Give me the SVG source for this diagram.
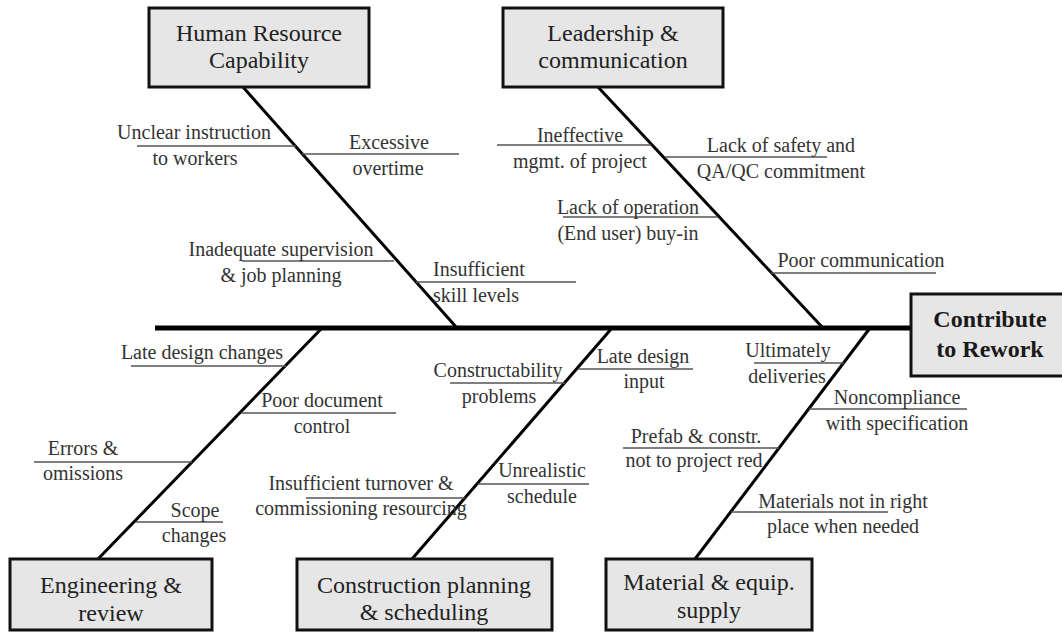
<svg xmlns="http://www.w3.org/2000/svg" width="1062" height="633" viewBox="0 0 1062 633">
  <style>
    .box { fill: #e6e6e6; stroke: #111; stroke-width: 3; }
    .spine { stroke: #000; stroke-width: 3; fill: none; }
    .backbone { stroke: #000; stroke-width: 5; fill: none; }
    .twig { stroke: #555; stroke-width: 1.6; fill: none; }
    text { font-family: "Liberation Serif", "Times New Roman", serif; text-anchor: middle; }
    .cat { font-size: 24px; fill: #222; }
    .effect { font-size: 24px; font-weight: bold; fill: #1a1a1a; }
    .cause { font-size: 20px; fill: #333; }
  </style>

  <rect width="1062" height="633" fill="#fff"/>

  <!-- connectors: backbone, category spines and cause branches -->
  <g id="connectors">
    <line class="backbone" x1="155" y1="328" x2="911" y2="328"/>
    <line class="spine" x1="243" y1="87" x2="457" y2="328"/>
    <line class="spine" x1="598" y1="87" x2="823" y2="328"/>
    <line class="spine" x1="322" y1="328" x2="98" y2="559"/>
    <line class="spine" x1="612" y1="328" x2="412" y2="559"/>
    <line class="spine" x1="870" y1="328" x2="695" y2="559"/>

    <!-- Human Resource Capability -->
    <line class="twig" x1="137" y1="146" x2="296" y2="146"/>
    <line class="twig" x1="302" y1="154" x2="459" y2="154"/>
    <line class="twig" x1="242" y1="261" x2="394" y2="261"/>
    <line class="twig" x1="416" y1="282" x2="576" y2="282"/>
    <!-- Leadership & communication -->
    <line class="twig" x1="497" y1="145" x2="651" y2="145"/>
    <line class="twig" x1="665" y1="157" x2="827" y2="157"/>
    <line class="twig" x1="563" y1="217" x2="718" y2="217"/>
    <line class="twig" x1="771" y1="273" x2="936" y2="273"/>
    <!-- Engineering & review -->
    <line class="twig" x1="131" y1="366" x2="286" y2="366"/>
    <line class="twig" x1="241" y1="413" x2="396" y2="413"/>
    <line class="twig" x1="34" y1="462" x2="192" y2="462"/>
    <line class="twig" x1="135" y1="522" x2="223" y2="522"/>
    <!-- Construction planning & scheduling -->
    <line class="twig" x1="450" y1="383" x2="565" y2="383"/>
    <line class="twig" x1="578" y1="369" x2="693" y2="369"/>
    <line class="twig" x1="306" y1="498" x2="465" y2="498"/>
    <line class="twig" x1="478" y1="484" x2="589" y2="484"/>
    <!-- Material & equip. supply -->
    <line class="twig" x1="754" y1="363" x2="844" y2="363"/>
    <line class="twig" x1="809" y1="409" x2="967" y2="409"/>
    <line class="twig" x1="623" y1="448" x2="779" y2="448"/>
    <line class="twig" x1="731" y1="512" x2="888" y2="512"/>
  </g>

  <!-- effect -->
  <g id="effect">
    <rect class="box" x="911" y="294" width="160" height="82"/>
    <text class="effect" x="990" y="327">Contribute</text>
    <text class="effect" x="990" y="357">to Rework</text>
  </g>

  <!-- categories -->
  <g id="human-resource">
    <rect class="box" x="149" y="8" width="220" height="79"/>
    <text class="cat" x="259" y="41">Human Resource</text>
    <text class="cat" x="259" y="68">Capability</text>
  </g>
  <g id="leadership">
    <rect class="box" x="503" y="8" width="220" height="79"/>
    <text class="cat" x="613" y="41">Leadership &amp;</text>
    <text class="cat" x="613" y="68">communication</text>
  </g>
  <g id="engineering">
    <rect class="box" x="10" y="559" width="202" height="71"/>
    <text class="cat" x="111" y="593">Engineering &amp;</text>
    <text class="cat" x="111" y="621">review</text>
  </g>
  <g id="construction">
    <rect class="box" x="297" y="559" width="255" height="71"/>
    <text class="cat" x="424" y="593">Construction planning</text>
    <text class="cat" x="424" y="620">&amp; scheduling</text>
  </g>
  <g id="material">
    <rect class="box" x="606" y="559" width="206" height="71"/>
    <text class="cat" x="709" y="590">Material &amp; equip.</text>
    <text class="cat" x="709" y="618">supply</text>
  </g>

  <!-- causes -->
  <g id="unclear-instruction" class="cause">
    <text class="cause" x="194" y="139">Unclear instruction</text>
    <text class="cause" x="195" y="165">to workers</text>
  </g>
  <g id="excessive-overtime">
    <text class="cause" x="389" y="149">Excessive</text>
    <text class="cause" x="388" y="175">overtime</text>
  </g>
  <g id="inadequate-supervision">
    <text class="cause" x="281" y="256">Inadequate supervision</text>
    <text class="cause" x="281" y="282">&amp; job planning</text>
  </g>
  <g id="insufficient-skill">
    <text class="cause" x="479" y="276">Insufficient</text>
    <text class="cause" x="476" y="302">skill levels</text>
  </g>

  <g id="ineffective-mgmt">
    <text class="cause" x="580" y="142">Ineffective</text>
    <text class="cause" x="580" y="168">mgmt. of project</text>
  </g>
  <g id="safety-commitment">
    <text class="cause" x="781" y="152">Lack of safety and</text>
    <text class="cause" x="781" y="178">QA/QC commitment</text>
  </g>
  <g id="operation-buy-in">
    <text class="cause" x="628" y="214">Lack of operation</text>
    <text class="cause" x="628" y="240">(End user) buy-in</text>
  </g>
  <g id="poor-communication">
    <text class="cause" x="861" y="267">Poor communication</text>
  </g>

  <g id="late-design-changes">
    <text class="cause" x="202" y="359">Late design changes</text>
  </g>
  <g id="poor-document-control">
    <text class="cause" x="322" y="407">Poor document</text>
    <text class="cause" x="322" y="433">control</text>
  </g>
  <g id="errors-omissions">
    <text class="cause" x="83" y="455">Errors &amp;</text>
    <text class="cause" x="83" y="480">omissions</text>
  </g>
  <g id="scope-changes">
    <text class="cause" x="195" y="517">Scope</text>
    <text class="cause" x="194" y="542">changes</text>
  </g>

  <g id="constructability">
    <text class="cause" x="498" y="377">Constructability</text>
    <text class="cause" x="499" y="403">problems</text>
  </g>
  <g id="late-design-input">
    <text class="cause" x="643" y="363">Late design</text>
    <text class="cause" x="644" y="388">input</text>
  </g>
  <g id="turnover-commissioning">
    <text class="cause" x="361" y="490">Insufficient turnover &amp;</text>
    <text class="cause" x="361" y="515">commissioning resourcing</text>
  </g>
  <g id="unrealistic-schedule">
    <text class="cause" x="542" y="477">Unrealistic</text>
    <text class="cause" x="542" y="503">schedule</text>
  </g>

  <g id="ultimately-deliveries">
    <text class="cause" x="788" y="357">Ultimately</text>
    <text class="cause" x="787" y="383">deliveries</text>
  </g>
  <g id="noncompliance">
    <text class="cause" x="897" y="404">Noncompliance</text>
    <text class="cause" x="897" y="430">with specification</text>
  </g>
  <g id="prefab-constr">
    <text class="cause" x="696" y="443">Prefab &amp; constr.</text>
    <text class="cause" x="694" y="467">not to project red</text>
  </g>
  <g id="materials-place">
    <text class="cause" x="843" y="508">Materials not in right</text>
    <text class="cause" x="843" y="533">place when needed</text>
  </g>
</svg>
